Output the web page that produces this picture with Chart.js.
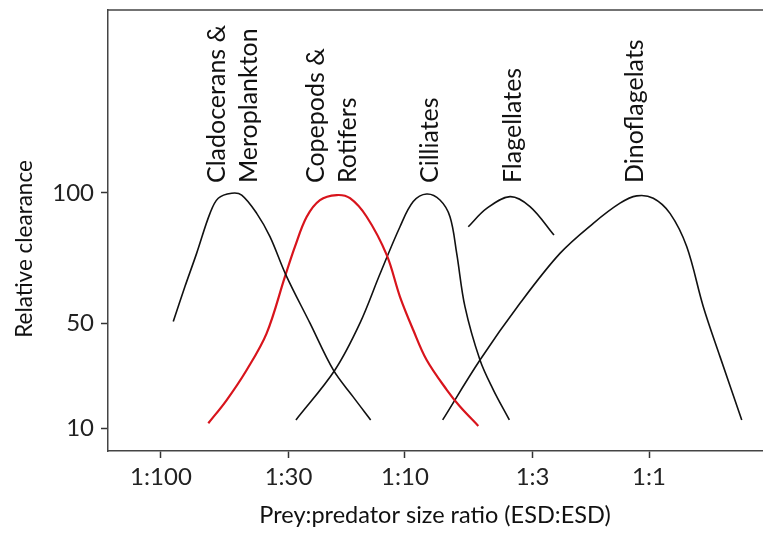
<!doctype html>
<html lang="en">
<head>
    <meta charset="utf-8">
    <title>Relative clearance</title>
    <script src="https://cdn.jsdelivr.net/npm/chart.js@4.4.1/dist/chart.umd.min.js"></script>
</head>
<style>
    body{
        margin: 0;
        background: #fff;
    }
    #wrap{
        width: 763px;
        height: 536px;
    }
</style>
<body>
    <div id="wrap">
        <canvas id="myChart" width="763" height="536"></canvas>
    </div>
<script>
    // prey:predator size ratio (x) and relative clearance (y)
    let cladX = [0.01123, 0.01254, 0.01400, 0.01588, 0.01717, 0.01949, 0.02142, 0.02468, 0.02797, 0.03253, 0.04080, 0.05083, 0.06121, 0.07233];
    let cladY = [50.8, 64.2, 76.9, 92.2, 98.0, 99.9, 99.2, 92.2, 83.3, 68.6, 50.2, 32.3, 22.1, 13.2];

    let copeX = [0.01563, 0.01859, 0.02245, 0.02710, 0.03222, 0.03541, 0.03956, 0.04483, 0.05249, 0.05952, 0.06966, 0.08414, 0.09539, 0.1081, 0.1227, 0.1483, 0.1680, 0.1997];
    let copeY = [11.9, 20.8, 32.3, 46.3, 68.0, 79.5, 90.9, 97.3, 99.2, 98.0, 90.9, 76.3, 60.3, 47.6, 36.1, 24.7, 18.3, 10.9];

    let cilX = [0.03574, 0.05164, 0.06538, 0.07896, 0.09539, 0.1081, 0.1227, 0.1391, 0.1529, 0.1629, 0.1761, 0.2029, 0.2301, 0.2677];
    let cilY = [13.2, 32.3, 50.2, 69.0, 87.1, 96.7, 99.6, 97.3, 90.9, 76.9, 56.5, 36.1, 24.7, 13.2];

    let flagX = [0.1817, 0.2162, 0.2694, 0.3253, 0.4080];
    let flagY = [87.1, 94.1, 98.6, 94.8, 83.9];

    let dinoX = [0.1427, 0.2029, 0.2960, 0.4316, 0.5910, 0.7606, 0.8905, 1.041, 1.219, 1.427, 1.669, 1.954, 2.399];
    let dinoY = [13.2, 36.1, 57.8, 76.9, 88.4, 96.1, 98.9, 98.0, 92.2, 79.5, 56.5, 37.4, 13.2];

    let xTicks = [0.01, 1/30, 0.1, 1/3, 1];
    let xTickLabels = ["1:100", "1:30", "1:10", "1:3", "1:1"];
    let yTicks = [10, 50, 100];

    let groupNames = [["Cladocerans &", "Meroplankton"], ["Copepods &", "Rotifers"], ["Cilliates"], ["Flagellates"], ["Dinoflagelats"]];
    let groupLabelX = [0.0198, 0.0504, 0.1266, 0.2771, 0.8762];
    let groupLabelY = 103.8;

    let FONT = "Lato, 'Open Sans', sans-serif";

    let toPoints = (xs, ys) => xs.map((x, i) => ({x: x, y: ys[i]}));

    let makeSet = (name, xs, ys, color, width) => ({
        label: name,
        data: toPoints(xs, ys),
        borderColor: color,
        borderWidth: width,
        pointRadius: 0,
        fill: false,
        tension: 0.35
    });

    let extras = {
        id: 'extras',
        afterDatasetsDraw(chart){
            let ctx = chart.ctx;
            let area = chart.chartArea;
            let sx = chart.scales.x;
            let sy = chart.scales.y;

            // top frame line
            ctx.save();
            ctx.strokeStyle = '#444';
            ctx.lineWidth = 1.5;
            ctx.beginPath();
            ctx.moveTo(area.left, area.top);
            ctx.lineTo(area.right + 1, area.top);
            ctx.stroke();

            // group names, rotated
            ctx.fillStyle = '#111';
            ctx.font = "25px " + FONT;
            ctx.textAlign = 'left';
            ctx.textBaseline = 'middle';
            let py = sy.getPixelForValue(groupLabelY);
            groupNames.forEach((lines, i) => {
                let cx = sx.getPixelForValue(groupLabelX[i]);
                let gap = 32;
                lines.forEach((txt, j) => {
                    let px = cx + (j - (lines.length - 1) / 2) * gap;
                    ctx.save();
                    ctx.translate(px, py);
                    ctx.rotate(-Math.PI / 2);
                    ctx.fillText(txt, 0, 0);
                    ctx.restore();
                });
            });

            // y axis title
            ctx.font = "22.5px " + FONT;
            ctx.save();
            ctx.translate(25, 249);
            ctx.rotate(-Math.PI / 2);
            ctx.textAlign = 'center';
            ctx.fillText("Relative clearance", 0, 0);
            ctx.restore();
            ctx.restore();
        }
    };

    $ = (id) => document.getElementById(id);

    let chart = new Chart($("myChart"), {
        type: 'line',
        data: {
            datasets: [
                makeSet("Cladocerans & Meroplankton", cladX, cladY, '#111', 1.6),
                makeSet("Copepods & Rotifers", copeX, copeY, '#d8141c', 2.2),
                makeSet("Cilliates", cilX, cilY, '#111', 1.6),
                makeSet("Flagellates", flagX, flagY, '#111', 1.6),
                makeSet("Dinoflagelats", dinoX, dinoY, '#111', 1.6)
            ]
        },
        options: {
            responsive: false,
            animation: false,
            layout: {padding: {top: 10, right: 1, left: 0, bottom: 0}},
            plugins: {
                legend: {display: false},
                tooltip: {enabled: false}
            },
            scales: {
                x: {
                    type: 'logarithmic',
                    min: 0.006067,
                    max: 2.904,
                    afterBuildTicks: (scale) => {
                        scale.ticks = xTicks.map(v => ({value: v}));
                    },
                    afterFit: (scale) => {
                        scale.height = 85;
                        scale.paddingLeft = 0;
                        scale.paddingRight = 0;
                    },
                    ticks: {
                        autoSkip: false,
                        maxRotation: 0,
                        color: '#222',
                        padding: 5,
                        font: {family: FONT, size: 24},
                        callback: (value, index) => xTickLabels[index]
                    },
                    grid: {
                        drawOnChartArea: false,
                        drawTicks: true,
                        tickLength: 7,
                        tickWidth: 1.5,
                        color: '#333'
                    },
                    border: {display: true, color: '#444', width: 1.5},
                    title: {
                        display: true,
                        text: "Prey:predator size ratio (ESD:ESD)",
                        color: '#111',
                        font: {family: FONT, size: 23.5},
                        padding: {top: 0, bottom: 6}
                    }
                },
                y: {
                    type: 'linear',
                    min: 1.3,
                    max: 170,
                    afterBuildTicks: (scale) => {
                        scale.ticks = yTicks.map(v => ({value: v}));
                    },
                    afterFit: (scale) => {
                        scale.width = 108;
                        scale.paddingTop = 0;
                        scale.paddingBottom = 0;
                    },
                    ticks: {
                        color: '#222',
                        padding: 7,
                        font: {family: FONT, size: 24}
                    },
                    grid: {
                        drawOnChartArea: false,
                        drawTicks: true,
                        tickLength: 7,
                        tickWidth: 1.5,
                        color: '#333'
                    },
                    border: {display: true, color: '#444', width: 1.5}
                }
            }
        },
        plugins: [extras]
    });
</script>
</body>
</html>
